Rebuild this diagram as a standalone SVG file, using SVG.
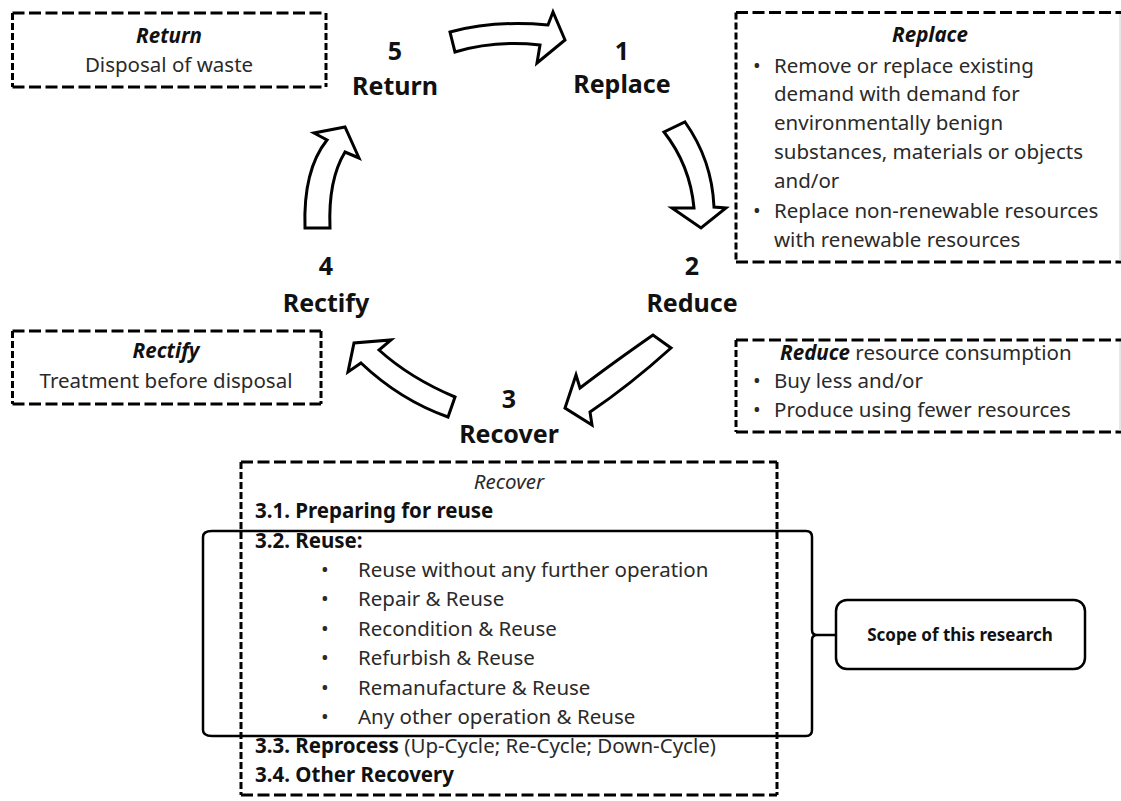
<svg xmlns="http://www.w3.org/2000/svg" width="1121" height="801" viewBox="0 0 1121 801">
<style>
text{font-family:"Noto Sans","Open Sans","Liberation Sans",sans-serif;}
.t{font-size:20.5px;fill:#2a2a2a;}
.ti{font-size:20.5px;font-style:italic;font-weight:bold;fill:#111;}
.b{font-size:20.5px;font-weight:bold;fill:#111;}
.lab{font-size:25px;font-weight:bold;fill:#111;text-anchor:middle;}
.c{text-anchor:middle;}
.dh{fill:none;stroke:#000;stroke-width:3;stroke-dasharray:12 4.5;}
.dv{fill:none;stroke:#000;stroke-width:3;stroke-dasharray:7 3;}
.arr{fill:#fff;stroke:#000;stroke-width:3;stroke-linejoin:miter;}
.ln{fill:none;stroke:#000;stroke-width:2.5;}
.edge{fill:none;stroke:#d0d0d0;stroke-width:1;}
</style>
<rect width="1121" height="801" fill="#fff"/>

<g id="connectors">
  <path class="arr" d="M450,32 Q495,20 548,25 L553,12 L565,40 L537,63 L540,45 Q495,40 455,52 Z"/>
  <path class="arr" d="M664,132 Q690,165 694,208 L672,208 L701,228 L726,208 L714,207 Q712,160 685,122 Z"/>
  <path class="arr" d="M653,335 Q610,365 580,388 L576,375 L565,408 L592,425 L590,412 Q630,385 671,348 Z"/>
  <path class="arr" d="M455,397 Q410,378 379,350 L391,340 L354,343 L348,372 L361,363 Q400,400 448,417 Z"/>
  <path class="arr" d="M305,228 Q303,170 327,140 L314,133 L345,127 L359,158 L345,152 Q328,180 330,228 Z"/>
</g>

<g id="label-return">
  <text class="lab" x="395" y="60">5</text>
  <text class="lab" x="395" y="95">Return</text>
</g>
<g id="label-replace">
  <text class="lab" x="622" y="60">1</text>
  <text class="lab" x="622" y="93">Replace</text>
</g>
<g id="label-reduce">
  <text class="lab" x="692" y="275">2</text>
  <text class="lab" x="692" y="312">Reduce</text>
</g>
<g id="label-rectify">
  <text class="lab" x="326" y="275">4</text>
  <text class="lab" x="326" y="312">Rectify</text>
</g>
<g id="label-recover">
  <text class="lab" x="509" y="408">3</text>
  <text class="lab" x="509" y="443">Recover</text>
</g>

<g id="box-return">
  <path class="dh" d="M12.5,13 H326 M12.5,87 H326"/>
  <path class="dv" d="M12.5,13 V87 M326,13 V87"/>
  <text class="ti c" x="169" y="43">Return</text>
  <text class="t c" x="169" y="72">Disposal of waste</text>
</g>

<g id="box-replace">
  <path class="dh" d="M736,12.5 H1125 M736,262 H1125"/>
  <path class="dv" d="M736,12.5 V262"/>
  <path class="edge" d="M1120,14 V261"/>
  <text class="ti c" x="930" y="42">Replace</text>
  <text class="t" x="753" y="73">•</text>
  <text class="t" x="774" y="73">Remove or replace existing</text>
  <text class="t" x="774" y="101">demand with demand for</text>
  <text class="t" x="774" y="130">environmentally benign</text>
  <text class="t" x="774" y="159">substances, materials or objects</text>
  <text class="t" x="774" y="188">and/or</text>
  <text class="t" x="753" y="218">•</text>
  <text class="t" x="774" y="218">Replace non-renewable resources</text>
  <text class="t" x="774" y="247">with renewable resources</text>
</g>

<g id="box-reduce">
  <path class="dh" d="M736,340 H1125 M736,432 H1125"/>
  <path class="dv" d="M736,340 V432"/>
  <path class="edge" d="M1120,342 V431"/>
  <text class="t" x="780" y="360"><tspan font-style="italic" font-weight="bold" fill="#111">Reduce</tspan> resource consumption</text>
  <text class="t" x="753" y="388">•</text>
  <text class="t" x="774" y="388">Buy less and/or</text>
  <text class="t" x="753" y="417">•</text>
  <text class="t" x="774" y="417">Produce using fewer resources</text>
</g>

<g id="box-rectify">
  <path class="dh" d="M12.5,331 H321 M12.5,404 H321"/>
  <path class="dv" d="M12.5,331 V404 M321,331 V404"/>
  <text class="ti c" x="166" y="358">Rectify</text>
  <text class="t c" x="166" y="388">Treatment before disposal</text>
</g>

<g id="box-recover">
  <path class="dh" d="M241,462 H777 M241,795 H777"/>
  <path class="dv" d="M241,462 V795 M777,462 V795"/>
  <text class="t c" x="509" y="489" font-style="italic" fill="#111">Recover</text>
  <text class="b" x="255" y="518">3.1. Preparing for reuse</text>
  <text class="b" x="255" y="548">3.2. Reuse:</text>
  <text class="t" x="321" y="577">•</text><text class="t" x="358" y="577">Reuse without any further operation</text>
  <text class="t" x="321" y="606">•</text><text class="t" x="358" y="606">Repair &amp; Reuse</text>
  <text class="t" x="321" y="636">•</text><text class="t" x="358" y="636">Recondition &amp; Reuse</text>
  <text class="t" x="321" y="665">•</text><text class="t" x="358" y="665">Refurbish &amp; Reuse</text>
  <text class="t" x="321" y="695">•</text><text class="t" x="358" y="695">Remanufacture &amp; Reuse</text>
  <text class="t" x="321" y="724">•</text><text class="t" x="358" y="724">Any other operation &amp; Reuse</text>
  <text class="t" x="255" y="753"><tspan font-weight="bold" fill="#111">3.3. Reprocess</tspan> (Up-Cycle; Re-Cycle; Down-Cycle)</text>
  <text class="b" x="255" y="782">3.4. Other Recovery</text>
</g>

<g id="scope-bracket">
  <path class="ln" d="M806,531 L212,531 Q203,531 203,537 L203,730 Q203,736 212,736 L806,736 Q812,736 812,730 L812,640 Q812,635 817,635 Q812,635 812,630 L812,537 Q812,531 806,531"/>
  <path class="ln" d="M817,635 H836"/>
</g>

<g id="scope">
  <rect x="836" y="600" width="249" height="69" rx="11" fill="#fff" stroke="#000" stroke-width="2.5"/>
  <text x="960" y="641" font-size="17" font-weight="bold" fill="#111" text-anchor="middle">Scope of this research</text>
</g>
</svg>
